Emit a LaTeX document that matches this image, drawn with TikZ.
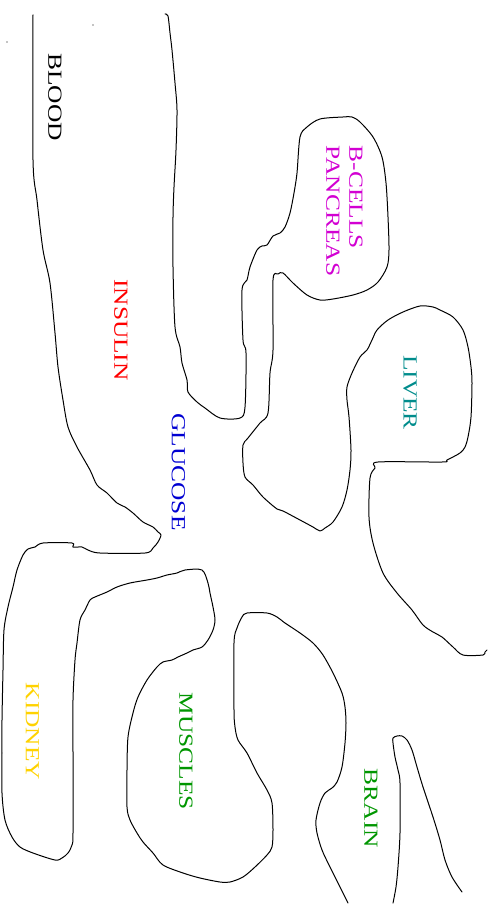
\documentclass[tikz,border=0pt]{standalone}
\usepackage{fontspec}
\setmainfont{Liberation Serif}
\definecolor{pancreascol}{RGB}{210,0,210}
\definecolor{livercol}{RGB}{0,140,140}
\definecolor{kidneycol}{RGB}{255,210,0}
\definecolor{musclecol}{RGB}{0,150,0}
\definecolor{glucosecol}{RGB}{0,0,210}

\begin{document}
\begin{tikzpicture}[x=1pt,y=-1pt,
  organ/.style={draw=black,line width=1pt,line join=round,line cap=round},
  lbl/.style={rotate=-90,xscale=1.27,inner sep=0pt,font=\fontsize{20}{23}\selectfont}]
\useasboundingbox (0,0) rectangle (493,904);
% outline: blood (right side), pancreas, liver
\draw[organ] plot[smooth,tension=0.5] coordinates {(165,14) (168,16) (170,33) (172,50) (175,83) (177,110) (176,150) (174,187) (173,217) (173,267) (175,327) (180,347) (182,363) (187,380) (188,392) (197,402) (205,408) (220,418) (240,418) (245,407) (246,353) (243,340) (242,290) (247,280) (250,267) (257,250) (262,246) (267,245) (273,236) (280,233) (285,227) (290,213) (294,193) (297,173) (300,137) (307,127) (320,119) (343,117) (352,117) (360,122) (373,137) (382,157) (386,183) (388,217) (389,250) (387,267) (378,282) (367,290) (353,295) (333,299) (320,300) (307,295) (293,283) (283,273) (278,274) (273,280) (273,350) (270,373) (268,413) (260,423) (248,438) (243,445) (243,463) (245,477) (253,485) (263,497) (277,509) (283,511) (300,520) (313,527) (320,531) (325,528) (333,522) (342,507) (347,490) (350,470) (351,450) (349,417) (347,400) (347,387) (352,373) (360,357) (367,350) (372,340) (377,330) (388,320) (403,312) (420,306) (433,307) (440,310) (453,317) (463,330) (468,347) (471,367) (472,383) (471,417) (468,437) (465,447) (460,453) (447,460) (442,462) (378,462) (375,468) (370,478) (369,517) (373,543) (383,573) (397,593) (412,610) (423,625) (433,632) (442,637) (453,647) (463,655) (483,655) (485,652) (487,650)};
% outline: blood (left side), kidney, muscles, brain
\draw[organ] plot[smooth,tension=0.5] coordinates {(33,15) (33,160) (37,200) (43,250) (50,283) (55,333) (58,367) (63,400) (68,427) (77,447) (90,470) (97,485) (107,493) (117,503) (125,507) (133,513) (143,522) (153,527) (158,532) (161,535) (158,542) (153,548) (145,553) (100,553) (88,550) (82,547) (73,547) (72,543) (43,543) (35,547) (28,549) (23,555) (17,570) (13,587) (8,607) (4,630) (3,670) (2,720) (2,753) (2,793) (5,820) (12,837) (20,847) (33,853) (55,860) (62,858) (68,853) (72,845) (73,833) (73,753) (73,700) (75,660) (77,643) (80,620) (85,610) (90,600) (95,597) (107,592) (117,587) (130,583) (147,580) (157,578) (167,575) (177,573) (185,570) (202,570) (208,583) (210,593) (213,607) (215,620) (213,630) (208,640) (202,647) (193,650) (187,653) (178,657) (172,660) (163,662) (157,667) (147,680) (138,697) (133,713) (128,737) (127,770) (127,807) (130,820) (137,833) (143,842) (153,853) (163,865) (183,873) (200,878) (220,882) (230,882) (243,877) (255,867) (267,855) (272,847) (273,830) (272,803) (267,790) (257,773) (247,753) (238,740) (235,727) (234,710) (234,643) (237,628) (242,617) (247,613) (267,613) (277,617) (285,623) (300,633) (313,643) (323,655) (333,673) (342,693) (345,707) (346,723) (345,743) (342,767) (337,782) (332,788) (325,793) (320,803) (316,820) (317,833) (322,850) (330,867) (340,887) (348,903)};
% outline: brain (right side)
\draw[organ] plot[smooth,tension=0.5] coordinates {(393,903) (396,887) (398,867) (400,833) (400,783) (398,770) (395,757) (393,743) (393,738) (397,736) (402,736) (407,740) (412,750) (417,767) (423,787) (433,817) (440,840) (445,860) (452,877) (462,892)};
\fill (93,25) circle (0.7);
\fill (7,42) circle (0.7);
% labels
\node[lbl] (blood) at (55,97) {BLOOD};
\node[lbl,text=red] (insulin) at (121,330) {INSULIN};
\node[lbl,text=glucosecol] (glucose) at (178.5,472) {GLUCOSE};
\node[lbl,text=pancreascol,align=left] (pancreas) at (344.5,211) {B-CELLS\\PANCREAS};
\node[lbl,text=livercol] (liver) at (410,392.5) {LIVER};
\node[lbl,text=kidneycol] (kidney) at (32.5,731.5) {KIDNEY};
\node[lbl,text=musclecol] (muscles) at (186,751.5) {MUSCLES};
\node[lbl,text=musclecol] (brain) at (371,808.5) {BRAIN};
\end{tikzpicture}
\end{document}
